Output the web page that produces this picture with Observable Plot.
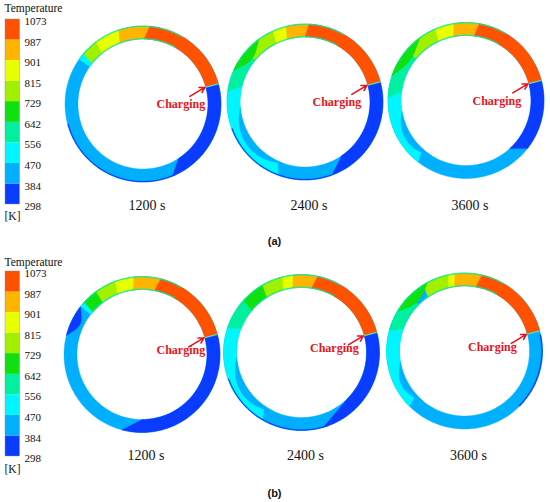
<!DOCTYPE html>
<html><head><meta charset="utf-8">
<script src="https://cdn.jsdelivr.net/npm/d3@7"></script>
<script src="https://cdn.jsdelivr.net/npm/@observablehq/plot@0.6"></script>
<style>html,body{margin:0;padding:0;background:#fff;} #chart{width:550px;height:502px;}</style>
</head><body><div id="chart"></div>
<script>
// ---------- data ----------
const ticks = [298, 384, 470, 556, 642, 729, 815, 901, 987, 1073];
const times = ["1200 s", "2400 s", "3600 s"];
const panelLabels = ["(a)", "(b)"];
const legendTitle = "Temperature";
const legendUnit = "[K]";
const chargeLabel = "Charging";
const splitAngle = 15; // degrees, charging port position

// band representative temperatures
const DB = 340, LB = 427, CY = 513, MT = 600, GR = 685, YG = 772, YE = 858, OY = 944, OR = 1030;

// regions: [T, outerStart, outerEnd, innerStart, innerEnd, innerFrac, outerFrac, lens]
const regionsA1200 = [
  [LB, 0, 360, 0, 360, 0, 1],
  [DB, -68, 15, -57, 15, 0, 1],
  [DB, 195, 295, 195, 295, 0.94, 1],
  [CY, 136, 145, 136, 145, 0, 1],
  [YG, 126, 140, 128, 141, 0, 1],
  [YE, 107, 127, 110, 129, 0, 1],
  [OY, 84, 108, 88, 111, 0, 1],
  [OR, 15, 85, 15, 89, 0, 1],
  [MT, 60, 140, 60, 140, 0, 0.045],
  [MT, 60, 145, 60, 145, 0.955, 1]
];
const regionsA2400 = [
  [LB, 0, 360, 0, 360, 0, 1],
  [CY, 148, 250, 148, 245, 0, 1],
  [LB, 185, 250, 185, 250, 0, 0.55, "i"],
  [DB, -70, 15, -56, 15, 0, 1],
  [DB, 200, 290, 200, 290, 0.94, 1],
  [MT, 138, 172, 138, 166, 0, 1],
  [YG, 112, 140, 114, 140, 0, 1],
  [GR, 126, 156, 126, 156, 0.25, 1, "o"],
  [YE, 100, 114, 102, 116, 0, 1],
  [OY, 86, 104, 88, 106, 0, 1],
  [OR, 15, 87, 15, 90, 0, 1],
  [MT, 60, 145, 60, 145, 0, 0.045],
  [MT, 60, 148, 60, 148, 0.955, 1]
];
const regionsA3600 = [
  [LB, 0, 360, 0, 360, 0, 1],
  [CY, 150, 232, 150, 228, 0, 1],
  [LB, 190, 238, 190, 238, 0, 0.5, "i"],
  [DB, -38, 15, -48, 15, 0, 1],
  [MT, 140, 178, 140, 172, 0, 1],
  [YG, 112, 140, 114, 140, 0, 1],
  [GR, 126, 162, 126, 162, 0.3, 1, "o"],
  [YE, 98, 113, 100, 115, 0, 1],
  [OY, 79, 99, 82, 101, 0, 1],
  [OR, 15, 80, 15, 83, 0, 1],
  [MT, 60, 150, 60, 150, 0, 0.045],
  [MT, 60, 150, 60, 150, 0.955, 1]
];
const regionsB1200 = [
  [LB, 0, 360, 0, 360, 0, 1],
  [DB, -105, 15, -90, 15, 0, 1],
  [DB, 142, 166, 142, 166, 0.3, 1, "o"],
  [CY, 136, 142, 136, 142, 0, 1],
  [GR, 124, 138, 126, 139, 0, 1],
  [YG, 109, 126, 111, 127, 0, 1],
  [YE, 95, 110, 97, 112, 0, 1],
  [OY, 75, 96, 78, 98, 0, 1],
  [OR, 15, 76, 15, 79, 0, 1],
  [MT, 60, 140, 60, 140, 0, 0.045],
  [MT, 60, 140, 60, 140, 0.955, 1]
];
const regionsB2400 = [
  [LB, 0, 360, 0, 360, 0, 1],
  [CY, 150, 240, 150, 235, 0, 1],
  [LB, 185, 245, 185, 245, 0, 0.55, "i"],
  [DB, -74, 15, -45, 15, 0, 1],
  [DB, 200, 290, 200, 290, 0.94, 1],
  [MT, 135, 162, 135, 158, 0, 1],
  [GR, 118, 138, 120, 140, 0, 1],
  [YG, 103, 120, 105, 122, 0, 1],
  [YE, 95, 104, 97, 106, 0, 1],
  [OY, 77, 96, 80, 98, 0, 1],
  [OR, 15, 78, 15, 81, 0, 1],
  [MT, 60, 145, 60, 145, 0, 0.045],
  [MT, 60, 145, 60, 145, 0.955, 1]
];
const regionsB3600 = [
  [LB, 0, 360, 0, 360, 0, 1],
  [CY, 150, 225, 150, 222, 0, 1],
  [LB, 190, 230, 190, 230, 0, 0.5, "i"],
  [DB, -45, 12, -45, 12, 0.92, 1],
  [MT, 135, 165, 135, 160, 0, 1],
  [YG, 100, 122, 102, 124, 0, 1],
  [GR, 118, 150, 118, 150, 0.25, 1, "o"],
  [YE, 93, 102, 95, 104, 0, 1],
  [OY, 76, 97, 79, 99, 0, 1],
  [OR, 15, 77, 15, 80, 0, 1],
  [MT, 60, 150, 60, 150, 0, 0.045],
  [MT, 60, 150, 60, 150, 0.955, 1]
];
const ringRegions = [[regionsA1200, regionsA2400, regionsA3600], [regionsB1200, regionsB2400, regionsB3600]];

// ---------- layout / style ----------
const bandColors = ["#0a3cff", "#00b0ff", "#00f6ff", "#00f0a0", "#10e010", "#a0f000", "#e8ff00", "#ffb400", "#ff5200"];
const layout = {
  centers: [[[142.5, 103.5], [304.5, 101.5], [465.5, 100]], [[141.5, 354], [301, 352], [464, 350.5]]],
  ro: 78, ri: 65,
  legendX: [5, 19.5], legendTop: [19, 271], legendH: 185,
  titleY: [8, 262], unitY: [216, 469],
  timeY: [205, 455], timeDx: 4,
  panelLabelX: 274, panelLabelY: [241, 493],
  chargeDx: [[-24, -30, -31], [-23, -29, -34]], chargeDy: [17, 12.5]
};
const serif = "Liberation Serif";

// ---------- build geometry from data ----------
const pts = [];
const rad = f => layout.ri + f * (layout.ro - layout.ri);
ringRegions.forEach((row, p) => row.forEach((regions, j) => {
  const [cx, cy] = layout.centers[p][j];
  regions.forEach((r, k) => {
    const [t, a0, a1, b0, b1, fi, fo, lens] = r;
    const id = `${p}-${j}-${k}`;
    const push = (ang, f) => {
      const th = ang * Math.PI / 180;
      pts.push({x: cx + rad(f) * Math.cos(th), y: cy - rad(f) * Math.sin(th), id, t});
    };
    const n = Math.max(4, Math.ceil(Math.abs(a1 - a0)));
    const m = Math.max(4, Math.ceil(Math.abs(b1 - b0)));
    if (lens === "o") {
      for (let i = 0; i <= n; i++) push(a0 + (a1 - a0) * i / n, fo);
      for (let i = n; i >= 0; i--) { const s = i / n; push(a0 + (a1 - a0) * s, fo - (fo - fi) * Math.sin(Math.PI * s)); }
    } else if (lens === "i") {
      for (let i = 0; i <= n; i++) { const s = i / n; push(a0 + (a1 - a0) * s, fi + (fo - fi) * Math.sin(Math.PI * s)); }
      for (let i = n; i >= 0; i--) push(a0 + (a1 - a0) * i / n, fi);
    } else {
      for (let i = 0; i <= n; i++) push(a0 + (a1 - a0) * i / n, fo);
      for (let i = m; i >= 0; i--) push(b0 + (b1 - b0) * i / m, fi);
    }
  });
}));

const rings = [];
layout.centers.forEach((row, p) => row.forEach(([cx, cy], j) => rings.push({p, j, cx, cy, time: times[j]})));
const th = splitAngle * Math.PI / 180;
const splits = rings.map(d => ({
  x1: d.cx + layout.ri * Math.cos(th), y1: d.cy - layout.ri * Math.sin(th),
  x2: d.cx + layout.ro * Math.cos(th), y2: d.cy - layout.ro * Math.sin(th)
}));
const charges = rings.map(d => {
  const tx = d.cx + (layout.ri - 1) * Math.cos(th), ty = d.cy - (layout.ri - 1) * Math.sin(th);
  return {tx, ty, sx: tx - 15, sy: ty + 9,
    lx: tx + layout.chargeDx[d.p][d.j], ly: ty + layout.chargeDy[d.p]};
});

const legendBands = [];
const legendTicks = [];
const legendY = (p, T) => layout.legendTop[p] + (ticks[ticks.length - 1] - T) / (ticks[ticks.length - 1] - ticks[0]) * layout.legendH;
[0, 1].forEach(p => {
  for (let i = 0; i < ticks.length - 1; i++) legendBands.push({p, lo: ticks[i], hi: ticks[i + 1], t: (ticks[i] + ticks[i + 1]) / 2});
  ticks.forEach(v => legendTicks.push({p, v}));
});
const panels = [0, 1].map(p => ({p, label: panelLabels[p]}));

const chart = Plot.plot({
  width: 550, height: 502, margin: 0,
  x: {domain: [0, 550], range: [0, 550], axis: null},
  y: {domain: [0, 502], range: [0, 502], axis: null},
  color: {type: "threshold", domain: ticks.slice(1, -1), range: bandColors},
  style: {background: "#fff", color: "#111"},
  marks: [
    Plot.line(pts, {x: "x", y: "y", z: "id", fill: "t", stroke: "t", strokeWidth: 0.4, curve: "linear"}),
    Plot.link(splits, {x1: "x1", y1: "y1", x2: "x2", y2: "y2", stroke: "#60e0a0", strokeWidth: 1.2}),
    Plot.rect(legendBands, {x1: () => layout.legendX[0], x2: () => layout.legendX[1],
      y1: d => legendY(d.p, d.hi), y2: d => legendY(d.p, d.lo), fill: "t", inset: 0}),
    Plot.rect(panels, {x1: () => layout.legendX[0], x2: () => layout.legendX[1],
      y1: d => layout.legendTop[d.p], y2: d => layout.legendTop[d.p] + layout.legendH, fill: "none", stroke: "#888", strokeWidth: 0.4, inset: 0}),
    Plot.text(legendTicks, {x: () => layout.legendX[1] + 4.5, y: d => legendY(d.p, d.v) + 2, text: d => String(d.v),
      textAnchor: "start", fontSize: 11, fontFamily: serif, fill: "#111"}),
    Plot.text(panels, {x: () => 4, y: d => layout.titleY[d.p], text: () => legendTitle, textAnchor: "start", fontSize: 11.5, fontFamily: serif, fill: "#111"}),
    Plot.text(panels, {x: () => 4, y: d => layout.unitY[d.p], text: () => legendUnit, textAnchor: "start", fontSize: 11.5, fontFamily: serif, fill: "#111"}),
    Plot.text(rings, {x: d => d.cx + layout.timeDx, y: d => layout.timeY[d.p], text: "time", fontSize: 14, fontFamily: serif, fill: "#111"}),
    Plot.text(panels, {x: () => layout.panelLabelX, y: d => layout.panelLabelY[d.p], text: "label", fontSize: 11,
      fontWeight: "bold", fontFamily: "Liberation Sans", fill: "#111"}),
    Plot.arrow(charges, {x1: "sx", y1: "sy", x2: "tx", y2: "ty", stroke: "#e8141c", strokeWidth: 1.6, headLength: 6}),
    Plot.text(charges, {x: "lx", y: "ly", text: () => chargeLabel, fontSize: 12, fontWeight: "bold", fontFamily: serif, fill: "#e8141c"})
  ]
});
document.getElementById("chart").appendChild(chart);
</script>
</body></html>
